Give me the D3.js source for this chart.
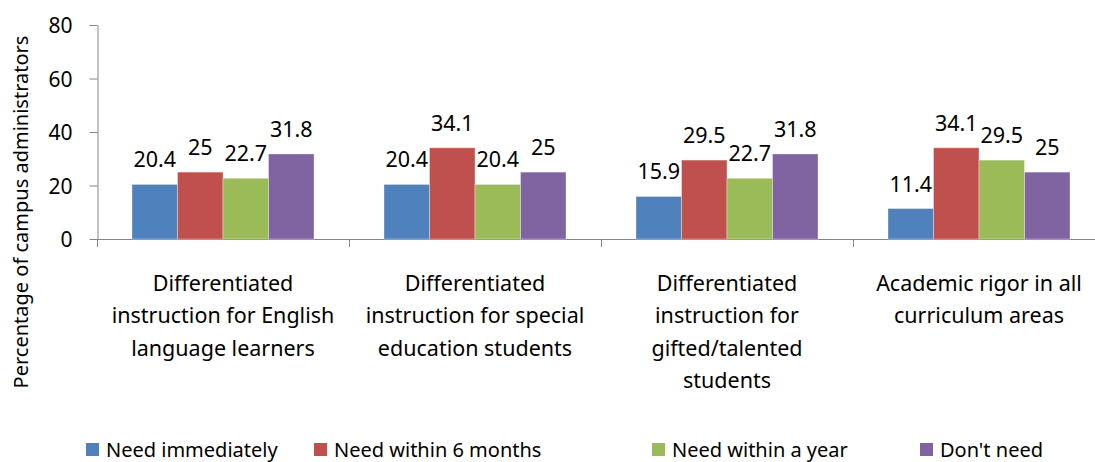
<!DOCTYPE html>
<html>
<head>
<meta charset="utf-8">
<script src="https://cdn.jsdelivr.net/npm/d3@7"></script>
<style>
  body { margin: 0; background: #fff; }
  text { font-family: "Noto Sans", "Open Sans", sans-serif; fill: #000; }
</style>
</head>
<body>
<div id="chart"></div>
<script>
// data
var categories = [
    ["Differentiated", "instruction for English", "language learners"],
    ["Differentiated", "instruction for special", "education students"],
    ["Differentiated", "instruction for", "gifted/talented", "students"],
    ["Academic rigor in all", "curriculum areas"]
];
var seriesNames = ["Need immediately", "Need within 6 months", "Need within a year", "Don't need"];
var needImmediately = [20.4, 20.4, 15.9, 11.4];
var needSixMonths = [25, 34.1, 29.5, 34.1];
var needYear = [22.7, 20.4, 22.7, 29.5];
var dontNeed = [31.8, 25, 31.8, 25];
var yTicks = [0, 20, 40, 60, 80];
var colors = ["#4F81BD", "#C0504D", "#9BBB59", "#8064A2"];

var series = [needImmediately, needSixMonths, needYear, dontNeed];

var svgWidth = 1095;
var svgHeight = 462;

var svg = d3.select("#chart")
    .append("svg")
    .attr("width", svgWidth)
    .attr("height", svgHeight);

// scales
var x0 = d3.scaleBand()
    .domain(d3.range(categories.length))
    .range([97, 1105])
    .paddingInner(0)
    .paddingOuter(0);

var x1 = d3.scaleBand()
    .domain(d3.range(series.length))
    .range([35, x0.bandwidth() - 35]);

var y = d3.scaleLinear()
    .domain([0, 80])
    .range([239, 25]);

// y axis
var yAxis = d3.axisLeft(y).tickValues(yTicks).tickSize(8).tickSizeOuter(0);
var yG = svg.append("g")
    .attr("transform", "translate(97.5,0)")
    .call(yAxis);
yG.select(".domain").attr("stroke", "#868686");
yG.selectAll(".tick line").attr("stroke", "#868686");
yG.selectAll(".tick text")
    .attr("x", -25)
    .attr("dy", "0.36em")
    .style("font-size", "21px");

// x axis line + ticks at category boundaries
svg.append("line")
    .attr("x1", 97).attr("x2", 1105)
    .attr("y1", 239.5).attr("y2", 239.5)
    .attr("stroke", "#868686");
svg.selectAll(".xtick")
    .data(d3.range(categories.length + 1))
    .enter()
    .append("line")
    .attr("x1", function(i) { return Math.round(97 + i * x0.step()) + 0.5; })
    .attr("x2", function(i) { return Math.round(97 + i * x0.step()) + 0.5; })
    .attr("y1", 239.5).attr("y2", 247)
    .attr("stroke", "#868686");

// bars
var groups = svg.selectAll(".group")
    .data(categories)
    .enter()
    .append("g")
    .attr("transform", function(d, i) { return "translate(" + x0(i) + ",0)"; });

groups.each(function(d, ci) {
    var g = d3.select(this);
    series.forEach(function(s, si) {
        g.append("rect")
            .attr("x", x1(si))
            .attr("y", y(s[ci]))
            .attr("width", x1.bandwidth())
            .attr("height", y(0) - y(s[ci]))
            .attr("fill", colors[si])
            .attr("stroke", "#fff")
            .attr("stroke-opacity", 0.35)
            .attr("stroke-width", 1);
        g.append("text")
            .attr("x", x1(si) + x1.bandwidth() / 2)
            .attr("y", y(s[ci]) - 17)
            .attr("text-anchor", "middle")
            .style("font-size", "21.5px")
            .text(s[ci]);
    });
    // category label
    var lbl = g.append("text")
        .attr("text-anchor", "middle")
        .style("font-size", "21.5px");
    d.forEach(function(line, li) {
        lbl.append("tspan")
            .attr("x", x0.bandwidth() / 2)
            .attr("y", 291 + li * 32.3)
            .text(line);
    });
});

// y axis title
svg.append("text")
    .attr("transform", "translate(28,212) rotate(-90)")
    .attr("text-anchor", "middle")
    .style("font-size", "20px")
    .text("Percentage of campus administrators");

// legend
var legendX = [86, 314, 652, 920];
var legend = svg.selectAll(".legend")
    .data(seriesNames)
    .enter()
    .append("g")
    .attr("transform", function(d, i) { return "translate(" + legendX[i] + ",443)"; });
legend.append("rect")
    .attr("width", 13).attr("height", 13)
    .attr("fill", function(d, i) { return colors[i]; });
legend.append("text")
    .attr("x", 20)
    .attr("y", 14)
    .style("font-size", "20px")
    .text(function(d) { return d; });
</script>
</body>
</html>
